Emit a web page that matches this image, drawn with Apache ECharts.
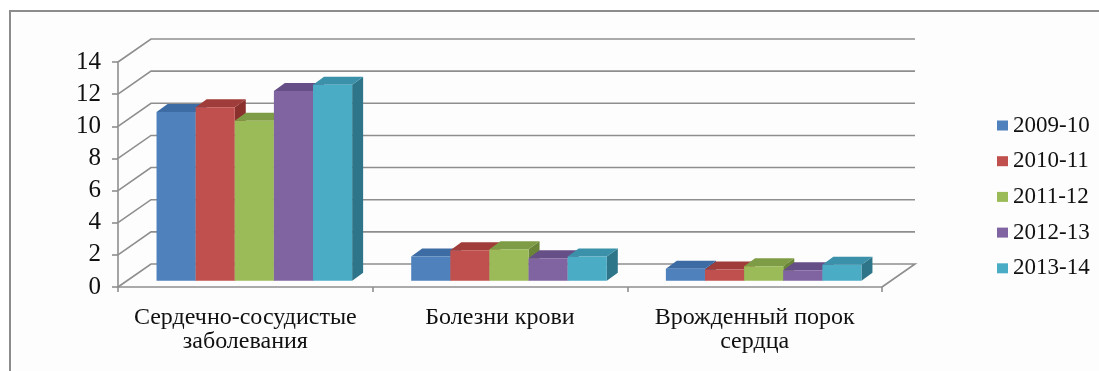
<!DOCTYPE html>
<html>
<head>
<meta charset="utf-8">
<script src="https://cdn.jsdelivr.net/npm/echarts@6/dist/echarts.min.js"></script>
<style>
  html, body { margin: 0; padding: 0; background: #ffffff; }
  #chart { width: 1099px; height: 371px; }
</style>
</head>
<body>
<div id="chart"></div>
<script>
// Categories (diseases) and the school years shown in the legend
const categories = ['Сердечно-сосудистые\nзаболевания', 'Болезни крови', 'Врожденный порок\nсердца'];
const years = ['2009-10', '2010-11', '2011-12', '2012-13', '2013-14'];

// Values per year, one entry per category
const v2009 = [10.5, 1.5, 0.75];
const v2010 = [10.8, 1.9, 0.7];
const v2011 = [9.95, 1.95, 0.9];
const v2012 = [11.8, 1.4, 0.65];
const v2013 = [12.2, 1.5, 1.0];

// Value axis ticks
const yTicks = [0, 2, 4, 6, 8, 10, 12, 14];

const seriesValues = [v2009, v2010, v2011, v2012, v2013];

// Face colours of the 3D columns: front, top, side
const frontColors = ['#4f81bd', '#c0504d', '#9bbb59', '#8064a2', '#4bacc6'];
const topColors   = ['#3d6ca4', '#a03c39', '#7e9c45', '#664e87', '#3b91aa'];
const sideColors  = ['#2f5789', '#8a302d', '#6a8537', '#553f72', '#2e7589'];

const FONT = 'Liberation Serif, Times New Roman, serif';
const LINE = '#8e8e8e';

// Oblique projection: offset of the back wall, of the column front plane and column depth
const WALL_DX = 33, WALL_DY = -23;
const FACE_DX = 9,  FACE_DY = -6.3;
const DEPTH_DX = 11, DEPTH_DY = -8;
const GROUP_RATIO = 0.768;

const chart = echarts.init(document.getElementById('chart'));

function wallItem(params, api) {
  const v = api.value(1);
  const band = api.size([1, 0])[0];
  const first = api.coord([0, v]);
  const last = api.coord([categories.length - 1, v]);
  const xl = first[0] - band / 2;
  const xr = last[0] + band / 2;
  const y = first[1];
  const pts = [[xl, y], [xl + WALL_DX, y + WALL_DY], [xr + WALL_DX, y + WALL_DY]];
  if (v === 0) pts.push([xr, y]);
  return {
    type: 'polyline',
    shape: { points: pts },
    style: { stroke: LINE, lineWidth: 1.6, fill: null }
  };
}

function makeBarItem(k) {
  return function (params, api) {
    const cat = api.value(0);
    const v = api.value(1);
    const base = api.coord([cat, 0]);
    const top = api.coord([cat, v]);
    const band = api.size([1, 0])[0];
    const groupW = band * GROUP_RATIO;
    const barW = groupW / years.length;
    const x0 = base[0] - groupW / 2 + k * barW + FACE_DX;
    const x1 = x0 + barW;
    const yb = base[1] + FACE_DY;
    const yt = top[1] + FACE_DY;
    return {
      type: 'group',
      children: [
        { type: 'polygon', shape: { points: [[x1, yb], [x1 + DEPTH_DX, yb + DEPTH_DY], [x1 + DEPTH_DX, yt + DEPTH_DY], [x1, yt]] },
          style: { fill: sideColors[k] } },
        { type: 'polygon', shape: { points: [[x0, yt], [x1, yt], [x1 + DEPTH_DX, yt + DEPTH_DY], [x0 + DEPTH_DX, yt + DEPTH_DY]] },
          style: { fill: topColors[k] } },
        { type: 'rect', shape: { x: x0, y: yt, width: barW, height: yb - yt },
          style: { fill: frontColors[k] } }
      ]
    };
  };
}

const series = [{
  type: 'custom',
  name: 'walls',
  silent: true,
  clip: false,
  renderItem: wallItem,
  encode: { x: 0, y: 1 },
  data: yTicks.map(t => [0, t]),
  z: 1
}];

years.forEach((yr, k) => {
  series.push({
    type: 'custom',
    name: yr,
    clip: false,
    renderItem: makeBarItem(k),
    encode: { x: 0, y: 1 },
    itemStyle: { color: frontColors[k] },
    data: seriesValues[k].map((val, i) => [i, val]),
    z: 3
  });
});

chart.setOption({
  animation: false,
  backgroundColor: '#ffffff',
  color: frontColors,
  graphic: [{
    type: 'rect',
    z: -100,
    silent: true,
    shape: { x: 10, y: 11, width: 1100, height: 370 },
    style: { fill: '#fdfdfd', stroke: '#8c8c8c', lineWidth: 2 }
  }],
  grid: { left: 118, right: 217, top: 62, bottom: 84, containLabel: false },
  legend: {
    orient: 'vertical',
    left: 992,
    top: 109,
    itemWidth: 11,
    itemHeight: 10,
    itemGap: 12.7,
    icon: 'rect',
    data: years,
    textStyle: { fontFamily: FONT, fontSize: 23, color: '#111' }
  },
  xAxis: {
    type: 'category',
    data: categories,
    boundaryGap: true,
    axisLine: { show: true, lineStyle: { color: LINE, width: 1.6 } },
    axisTick: { show: true, length: 5, lineStyle: { color: LINE, width: 1.6 } },
    axisLabel: { interval: 0, fontFamily: FONT, fontSize: 24, lineHeight: 24, color: '#111', margin: 19 },
    splitLine: { show: false }
  },
  yAxis: {
    type: 'value',
    min: 0,
    max: 14,
    interval: 2,
    axisLine: { show: true, lineStyle: { color: LINE, width: 1.6 } },
    axisTick: { show: true, length: 6, lineStyle: { color: LINE, width: 1.6 } },
    axisLabel: { fontFamily: FONT, fontSize: 25, color: '#111', margin: 17 },
    splitLine: { show: false }
  },
  series: series
});
</script>
</body>
</html>
